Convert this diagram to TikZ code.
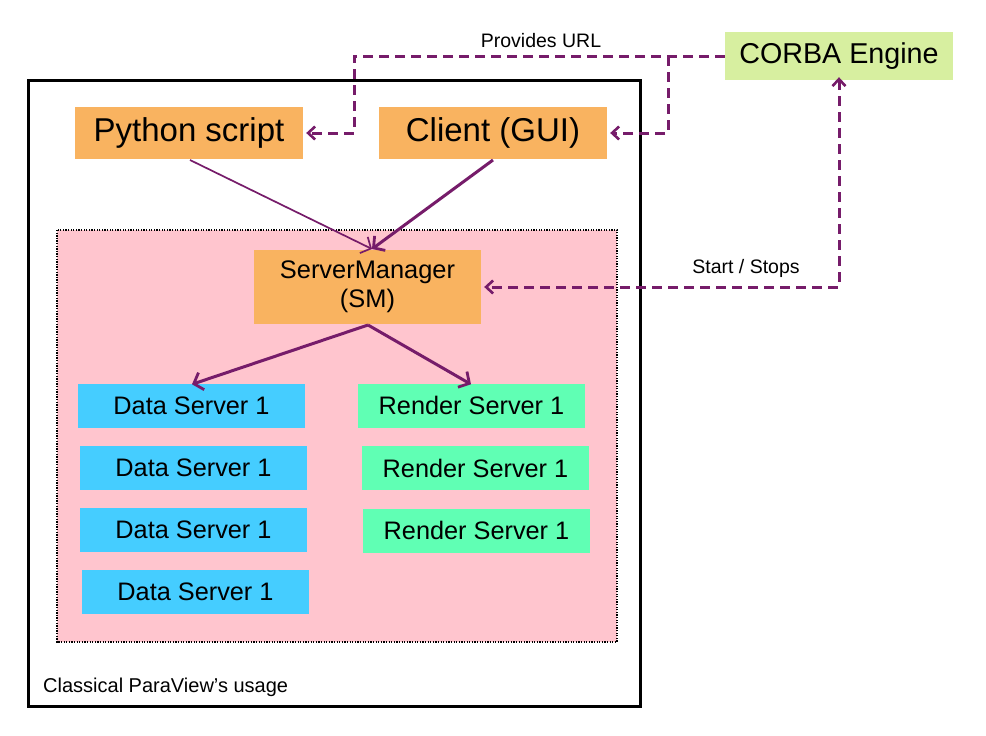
\documentclass[tikz,border=0pt]{standalone}
\usepackage{fontspec}
\setmainfont{Liberation Sans}
\usetikzlibrary{arrows.meta}
\definecolor{orng}{HTML}{F9B360}
\definecolor{lgreen}{HTML}{D7EFA0}
\definecolor{pinkbg}{HTML}{FFC5CE}
\definecolor{dblue}{HTML}{45CDFF}
\definecolor{mint}{HTML}{60FFB4}
\definecolor{purp}{HTML}{761C6A}
\tikzset{
  box/.style={rectangle, inner sep=0pt, text=black},
  bigbox/.style={box, fill=orng, minimum width=228pt, minimum height=52pt, font=\fontsize{33}{38}\selectfont},
  smbox/.style={box, fill=orng, minimum width=227pt, minimum height=74pt, font=\fontsize{25.4}{29}\selectfont, align=center},
  corbabox/.style={box, fill=lgreen, minimum width=228pt, minimum height=48pt, font=\fontsize{28.7}{33}\selectfont},
  dsbox/.style={box, fill=dblue, minimum width=227pt, minimum height=44pt, font=\fontsize{25.3}{29}\selectfont},
  rsbox/.style={box, fill=mint, minimum width=227pt, minimum height=44pt, font=\fontsize{25.3}{29}\selectfont},
  lbl/.style={font=\fontsize{19.5}{23}\selectfont, inner sep=0pt},
  dsh/.style={draw=purp, line width=3pt, dash pattern=on 10pt off 6pt, >={Straight Barb[length=7pt,width=13pt,line width=2.6pt]}},
  sol/.style={draw=purp, line width=3pt, >={Straight Barb[length=8pt,width=18pt,line width=2.8pt]}, ->},
  thinarr/.style={draw=purp, line width=1.7pt, >={Straight Barb[length=8pt,width=18pt,line width=1.7pt]}, ->}
}
\begin{document}
\begin{tikzpicture}[x=1pt,y=-1pt]
\useasboundingbox[fill=white] (0,0) rectangle (986,736);
% outer frame
\draw[line width=3pt] (28,80) rectangle (640,706);
\node[lbl, anchor=west, font=\fontsize{20}{24}\selectfont] (usage) at (43,687) {Classical ParaView’s usage};
% pink region
\draw[fill=pinkbg, draw=black, line width=1.2pt, dash pattern=on 1.3pt off 1.3pt] (57,230) rectangle (617,642);
% nodes
\node[bigbox] (py) at (189,133) {Python script};
\node[bigbox] (cl) at (493,133) {Client (GUI)};
\node[corbabox] (corba) at (839,56) {CORBA Engine};
\node[smbox] (sm) at (367.5,287) {ServerManager\\(SM)};
\node[dsbox] (d1) at (191.5,405.5) {Data Server 1};
\node[dsbox] (d2) at (193.5,468) {Data Server 1};
\node[dsbox] (d3) at (193.5,530) {Data Server 1};
\node[dsbox] (d4) at (195.5,592) {Data Server 1};
\node[rsbox] (r1) at (471.5,405.5) {Render Server 1};
\node[rsbox] (r2) at (475.5,468) {Render Server 1};
\node[rsbox] (r3) at (476.5,530.5) {Render Server 1};
% labels
\node[lbl] (purl) at (541,41) {Provides URL};
\node[lbl] (ss) at (746,268) {Start / Stops};
% dashed connectors
\coordinate (j) at (668,56);
\coordinate (pl) at (354,56);
\draw[dsh,->] (corba.west) -- (pl) |- ([xshift=3pt]py.east);
\draw[dsh,->] (j) |- ([xshift=3pt]cl.east);
\draw[dsh,<->] ([yshift=3pt]corba.south) |- ([xshift=3pt]sm.east);
% solid connectors
\coordinate (smt) at (372,249);
\coordinate (smb) at (368,325);
\draw[thinarr] (190,160) -- (smt);
\draw[sol] (493,160) -- (smt);
\draw[sol] (smb) -- ([xshift=0.5pt,yshift=-1pt]d1.north);
\draw[sol] (smb) -- ([xshift=-0.5pt,yshift=-1pt]r1.north);
\end{tikzpicture}
\end{document}
